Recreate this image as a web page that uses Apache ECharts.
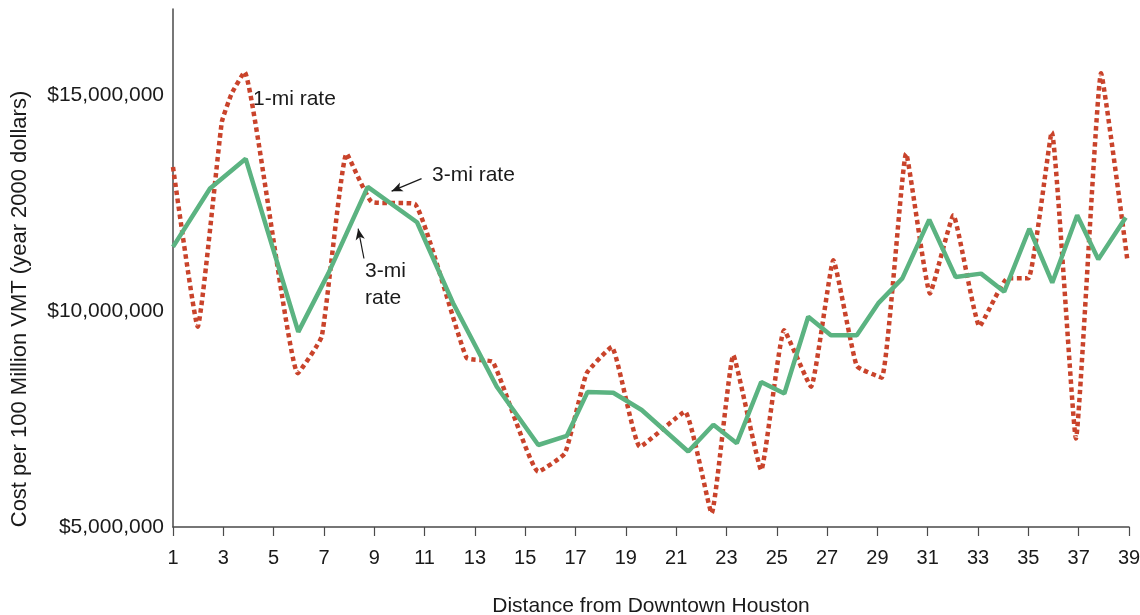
<!DOCTYPE html>
<html>
<head>
<meta charset="utf-8">
<script src="https://cdn.jsdelivr.net/npm/echarts@6/dist/echarts.min.js"></script>
<style>
  html, body { margin: 0; background: #fff; }
  #chart { width: 1140px; height: 615px; }
</style>
</head>
<body>
<div id="chart"></div>
<script>
// distance (miles) and cost per 100 million VMT
const mile3Distance = [1.0, 2.47, 3.89, 5.98, 7.17, 8.74, 10.70, 12.13, 13.87, 15.52, 16.65, 17.48, 18.50, 19.63, 21.48, 22.48, 23.41, 24.38, 25.30, 26.25, 27.15, 28.18, 29.03, 29.99, 31.06, 32.11, 33.12, 34.04, 35.04, 35.95, 36.94, 37.78, 38.87];
const mile3Cost = [11490000, 12840000, 13530000, 9520000, 10870000, 12880000, 12060000, 10190000, 8250000, 6900000, 7110000, 8130000, 8110000, 7710000, 6750000, 7370000, 6940000, 8360000, 8090000, 9870000, 9440000, 9440000, 10180000, 10760000, 12120000, 10790000, 10870000, 10450000, 11910000, 10660000, 12220000, 11200000, 12170000];

const mile1Distance = [1.0, 1.98, 2.94, 3.33, 3.84, 5.96, 6.91, 7.90, 8.90, 10.62, 12.67, 13.72, 15.52, 16.58, 17.44, 18.44, 19.56, 21.35, 22.41, 23.27, 24.38, 25.29, 26.36, 27.25, 28.18, 29.17, 30.14, 31.09, 32.02, 33.06, 34.17, 35.0, 35.93, 36.89, 37.89, 38.94];
const mile1Cost = [13340000, 9640000, 14380000, 15040000, 15540000, 8560000, 9410000, 13650000, 12530000, 12480000, 8920000, 8820000, 6280000, 6710000, 8560000, 9170000, 6860000, 7670000, 5320000, 8980000, 6320000, 9560000, 8250000, 11180000, 8730000, 8460000, 13650000, 10410000, 12220000, 9650000, 10760000, 10760000, 14150000, 7050000, 15510000, 11160000];

const yTicks = [5000000, 10000000, 15000000];

// annotation arrows, [distance, cost] tail -> head
const arrowTop = [[10.88, 13070000], [9.69, 12780000]];
const arrowLow = [[8.59, 11220000], [8.36, 11910000]];

const FONT = '"Liberation Sans", Arial, sans-serif';
const INK = '#1a1a1a';
const pairs = (xs, ys) => xs.map((x, i) => [x, ys[i]]);
const arrow = ([from, to]) => [
  { coord: from, symbol: 'none' },
  { coord: to, symbol: 'arrow', symbolSize: [7, 11] }
];

const chart = echarts.init(document.getElementById('chart'), null, { renderer: 'canvas' });
chart.setOption({
  animation: false,
  backgroundColor: '#fff',
  textStyle: { fontFamily: FONT },
  grid: { left: 173, right: 11, top: 9, bottom: 88, outerBoundsMode: 'none' },
  xAxis: {
    type: 'value', min: 1, max: 39, interval: 2,
    name: 'Distance from Downtown Houston', nameLocation: 'middle', nameGap: 69,
    nameTextStyle: { fontSize: 21, color: INK, fontFamily: FONT },
    axisLine: { lineStyle: { color: '#4a4a4a', width: 1.5 } },
    axisTick: { length: 9, lineStyle: { color: '#4a4a4a', width: 1.2 } },
    axisLabel: { fontSize: 20, color: INK, margin: 21, fontFamily: FONT },
    splitLine: { show: false }
  },
  yAxis: {
    type: 'value', min: 5000000, max: 17000000, interval: 5000000,
    axisLine: { show: true, lineStyle: { color: '#4a4a4a', width: 1.5 } },
    axisTick: { show: false },
    axisLabel: {
      fontSize: 21, color: INK, margin: 9, fontFamily: FONT, padding: [4, 0, 0, 0],
      formatter: v => yTicks.includes(v) ? '$' + v.toLocaleString('en-US') : ''
    },
    splitLine: { show: false }
  },
  series: [
    {
      name: '1-mi rate', type: 'line', data: pairs(mile1Distance, mile1Cost),
      showSymbol: false, smooth: 0.12, z: 2,
      lineStyle: { color: '#c9432b', width: 4.5, type: [4.5, 3.5], cap: 'butt' }
    },
    {
      name: '3-mi rate', type: 'line', data: pairs(mile3Distance, mile3Cost),
      showSymbol: false, z: 3,
      lineStyle: { color: '#5bb381', width: 4.5 },
      markLine: {
        silent: true, animation: false,
        label: { show: false },
        lineStyle: { color: INK, width: 1.2, type: 'solid' },
        data: [arrow(arrowTop), arrow(arrowLow)]
      }
    }
  ],
  graphic: [
    {
      type: 'text', x: 20, y: 309, rotation: Math.PI / 2,
      style: { text: 'Cost per 100 Million VMT (year 2000 dollars)', font: '22px ' + FONT, fill: INK, align: 'center', verticalAlign: 'middle' }
    },
    { type: 'text', left: 253, top: 89, style: { text: '1-mi rate', font: '21px ' + FONT, fill: INK } },
    { type: 'text', left: 432, top: 165, style: { text: '3-mi rate', font: '21px ' + FONT, fill: INK } },
    { type: 'text', left: 365, top: 258, style: { text: '3-mi\nrate', font: '21px ' + FONT, fill: INK, lineHeight: 27 } }
  ]
});
window.addEventListener('resize', () => chart.resize());
</script>
</body>
</html>
